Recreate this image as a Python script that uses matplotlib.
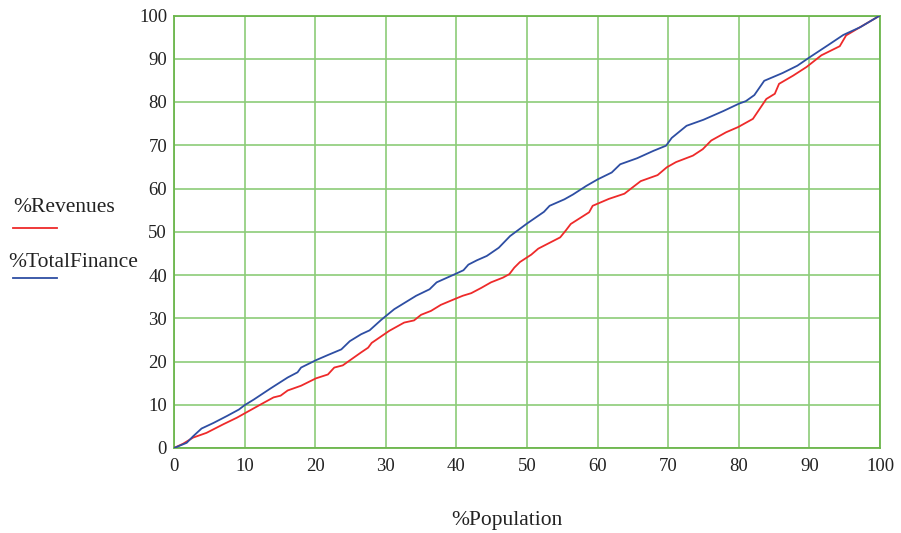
import matplotlib
matplotlib.use("Agg")
import matplotlib.pyplot as plt
from matplotlib.lines import Line2D

# Data
pop_total = [0, 1.8, 2.7, 3.9, 5.6, 7.5, 9.2, 10, 11.3, 13.7, 16.1, 17.5, 18, 20.1, 21.8, 23.7,
             24.9, 26.5, 27.7, 29.4, 31.2, 34.3, 36.2, 37.2, 39.8, 41, 41.7, 42.9, 44.3, 46,
             47.6, 50, 52.4, 53.2, 55.3, 56.5, 58.4, 60, 62, 63.2, 65.6, 67.9, 69.7, 70.5,
             72.6, 75, 77.8, 80, 81, 82.2, 83.6, 86.2, 88.3, 90, 92.6, 94.8, 97.2, 100]
total_finance = [0, 1.2, 2.7, 4.5, 5.8, 7.4, 8.9, 9.9, 11.2, 13.8, 16.3, 17.5, 18.6, 20.3, 21.5, 22.8,
                 24.7, 26.3, 27.2, 29.7, 32.1, 35.2, 36.7, 38.3, 40.2, 41.1, 42.4, 43.4, 44.4, 46.3,
                 49, 51.9, 54.6, 56, 57.5, 58.6, 60.6, 62.1, 63.7, 65.6, 67, 68.7, 69.9, 71.7,
                 74.5, 75.9, 77.9, 79.6, 80.2, 81.6, 84.9, 86.7, 88.4, 90.3, 93.1, 95.5, 97.3, 100]

pop_rev = [0, 1.3, 2.7, 4.6, 7, 8.9, 10, 12.2, 14.1, 15.1, 16.1, 18, 20.1, 21.8, 22.7, 23.9, 26.5,
           27.5, 28, 30.5, 32.6, 34, 35, 36.4, 37.8, 39.7, 40.9, 42.1, 43.5, 44.9, 46.6, 47.5,
           48.2, 49, 50.6, 51.6, 54.7, 55.5, 56.2, 58.8, 59.3, 61.6, 63.8, 66.1, 68.5, 69.8,
           71.1, 73.5, 74.9, 76.1, 78.2, 79.9, 82, 83.9, 85.1, 85.7, 87.7, 89.6, 91.7, 94.3,
           95.2, 97.6, 100]
revenues = [0, 1.0, 2.4, 3.5, 5.5, 7.0, 8, 10, 11.7, 12.1, 13.3, 14.4, 16.1, 17, 18.6, 19.1, 22.1,
            23.2, 24.3, 27.1, 29, 29.5, 30.8, 31.7, 33.1, 34.4, 35.2, 35.8, 37, 38.3, 39.4, 40.2,
            41.7, 43, 44.7, 46.1, 48.7, 50.3, 51.8, 54.5, 56, 57.6, 58.8, 61.7, 63.1, 64.9,
            66.1, 67.6, 69.1, 71.1, 73, 74.2, 76.1, 80.7, 81.9, 84.2, 86.1, 88.1, 90.8, 92.9,
            95.4, 97.7, 100]

ticks = [0, 10, 20, 30, 40, 50, 60, 70, 80, 90, 100]

plt.rcParams['font.family'] = ['Liberation Serif', 'DejaVu Serif']

RED = '#ee2a2a'
BLUE = '#2e4ea3'
GRID = '#8ccc78'
SPINE = '#6cb64c'

fig = plt.figure(figsize=(9.01, 5.33), dpi=100)
ax = fig.add_axes([174 / 901, 1 - 448 / 533, (880 - 174) / 901, (448 - 15.5) / 533])

ax.plot(pop_rev, revenues, color=RED, lw=1.3, zorder=3)
ax.plot(pop_total, total_finance, color=BLUE, lw=1.3, zorder=3)

ax.set_xlim(0, 100)
ax.set_ylim(0, 100)
ax.set_xticks(ticks)
ax.set_yticks(ticks)
ax.tick_params(length=0, labelsize=13.5, colors='#222222')
ax.tick_params(axis='y', pad=5)
ax.tick_params(axis='x', pad=7)
ax.grid(True, color=GRID, lw=1.2)
for s in ax.spines.values():
    s.set_color(SPINE)
    s.set_linewidth(1.3)

fig.text(507 / 901, 1 - 521 / 533, '%Population', ha='center', va='center', fontsize=15.5, color='#222222')

fig.text(13 / 901, 1 - 207 / 533, '%Revenues', ha='left', va='center', fontsize=15.5, color='#222222')
fig.add_artist(Line2D([13 / 901, 57 / 901], [1 - 228 / 533, 1 - 228 / 533], color=RED, lw=1.3))
fig.text(8 / 901, 1 - 263 / 533, '%TotalFinance', ha='left', va='center', fontsize=15.5, color='#222222')
fig.add_artist(Line2D([13 / 901, 57 / 901], [1 - 278 / 533, 1 - 278 / 533], color=BLUE, lw=1.3))

fig.savefig('out.png', dpi=100)
